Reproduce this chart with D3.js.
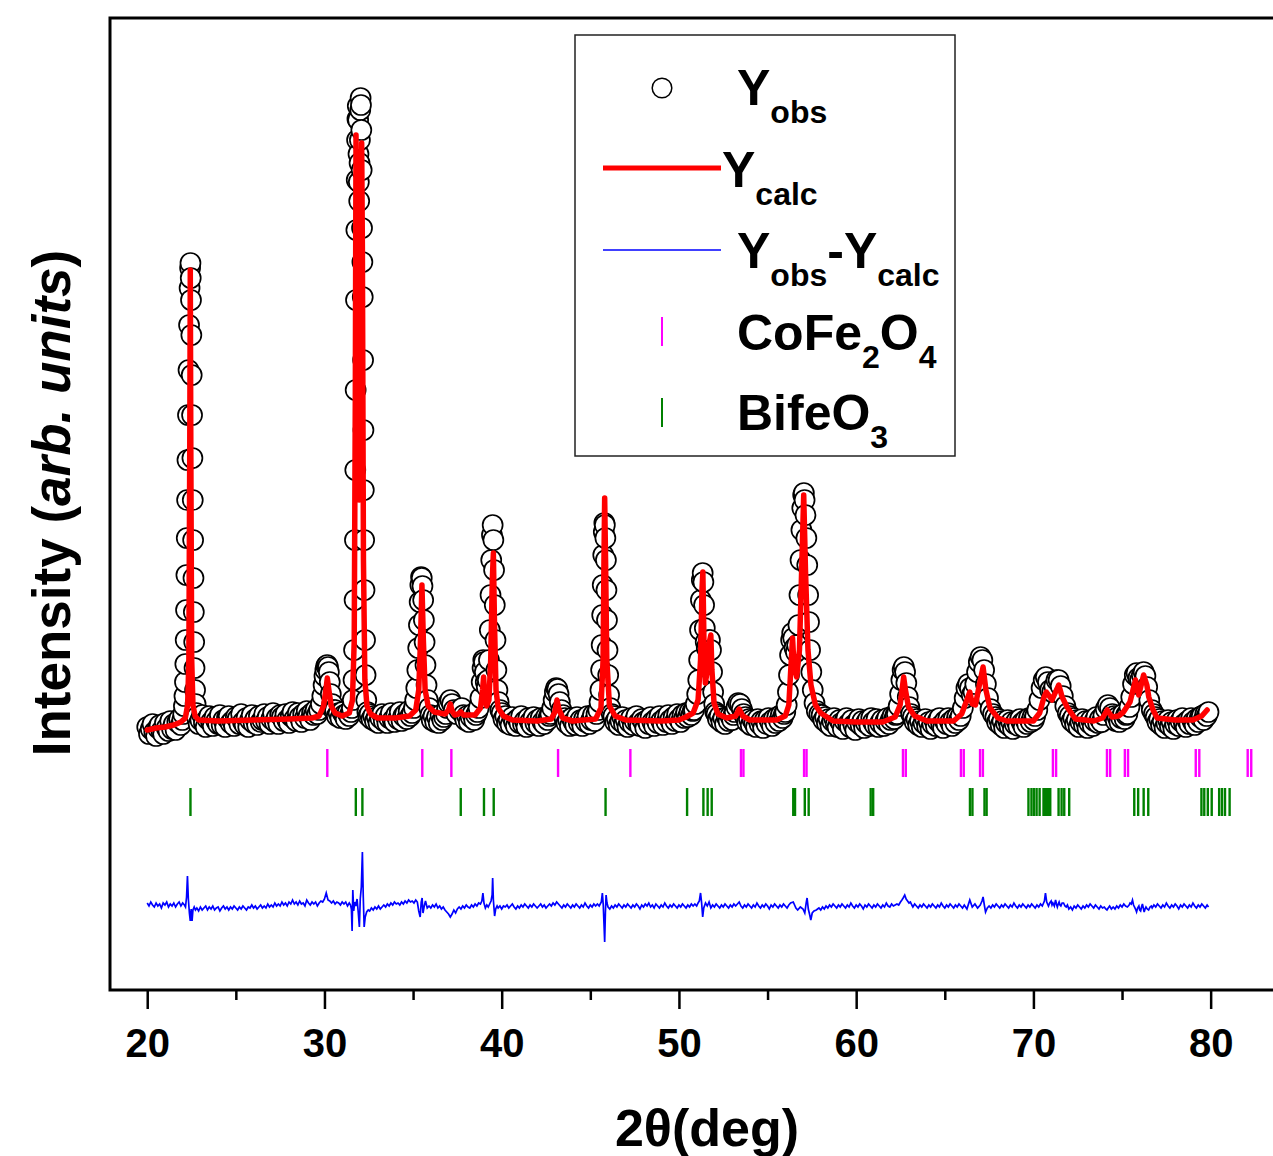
<!DOCTYPE html>
<html>
<head>
<meta charset="utf-8">
<script src="https://cdn.jsdelivr.net/npm/d3@7"></script>
<style>
    body { margin: 0; background: #fff; }
    svg { display: block; font-family: 'Liberation Sans', Arial, Helvetica, sans-serif; font-weight: bold; }
</style>
</head>
<body>
<div id="chart"></div>
<script>
// Axis ticks (2theta, degrees)
const majorTicks = [20, 30, 40, 50, 60, 70, 80];
const minorTicks = [25, 35, 45, 55, 65, 75];

// Observed intensity [2theta, counts]
const yObs = [
    [20.0,73],[20.1,66],[20.2,71],[20.3,76],[20.4,68],[20.5,64],[20.6,72],[20.7,75],[20.8,69],[20.9,66],[21.0,77],
    [21.1,72],[21.2,69],[21.3,79],[21.4,71],[21.5,76],[21.6,70],[21.7,78],[21.8,81],[21.9,75],
    [21.98,80],[22.03,86],[22.07,94],[22.10,104],[22.13,118],[22.15,136],[22.17,160],[22.19,190],[22.21,225],[22.23,262],
    [22.25,300],[22.27,340],[22.30,385],[22.33,430],[22.36,475],[22.39,512],[22.42,532],[22.44,537],[22.455,522],[22.47,500],
    [22.49,465],[22.51,425],[22.53,385],[22.55,342],[22.57,300],[22.59,260],[22.61,222],[22.63,188],[22.65,158],[22.67,132],
    [22.70,110],[22.73,96],[22.77,87],
    [22.8,83],[22.9,76],[23.0,80],[23.1,85],[23.2,77],[23.3,73],[23.4,81],[23.5,84],[23.6,78],[23.7,74],[23.8,83],[23.9,79],
    [24.0,76],[24.1,85],[24.2,75],[24.3,80],[24.4,73],[24.5,82],[24.6,84],[24.7,77],[24.8,79],[24.9,74],[25.0,83],[25.1,81],
    [25.2,76],[25.3,86],[25.4,78],[25.5,75],[25.6,82],[25.7,73],[25.8,80],[25.9,85],[26.0,77],[26.1,81],[26.2,75],[26.3,84],
    [26.4,78],[26.5,80],[26.6,86],[26.7,79],[26.8,83],[26.9,76],[27.0,81],[27.1,87],[27.2,78],[27.3,82],[27.4,76],[27.5,85],
    [27.6,83],[27.7,79],[27.8,86],[27.9,80],[28.0,77],[28.1,84],[28.2,88],[28.3,81],[28.4,79],[28.5,87],[28.6,83],[28.7,78],
    [28.8,86],[28.9,82],[29.0,89],[29.1,84],[29.2,80],[29.3,87],[29.4,85],[29.5,90],[29.6,86],
    [29.70,90],[29.80,96],[29.88,104],[29.95,115],[30.00,124],[30.05,130],[30.10,134],[30.15,135],[30.20,133],[30.25,128],
    [30.30,118],[30.36,106],[30.44,96],[30.52,90],
    [30.6,90],[30.7,84],[30.8,87],[30.9,82],[31.0,88],[31.1,85],[31.2,81],[31.3,87],[31.4,84],
    [31.50,88],[31.55,92],[31.60,100],[31.64,120],[31.67,150],[31.70,200],[31.72,260],[31.74,330],[31.76,410],[31.78,500],
    [31.80,570],[31.82,620],[31.84,660],[31.86,681],[31.88,694],[31.90,680],[31.92,646],[31.94,618],[31.96,599],[31.98,637],
    [32.00,660],[32.02,690],[32.04,702],[32.06,695],[32.08,670],[32.10,630],[32.12,572],[32.14,538],[32.16,503],[32.18,440],
    [32.20,370],[32.22,310],[32.24,260],[32.26,210],[32.29,160],[32.32,125],[32.36,100],[32.42,88],[32.48,84],
    [32.55,86],[32.65,81],[32.75,84],[32.85,79],[32.95,83],[33.05,77],[33.15,82],[33.25,86],[33.35,79],[33.45,84],
    [33.55,77],[33.65,82],[33.75,87],[33.85,80],[33.95,78],[34.05,85],[34.15,81],[34.25,88],[34.35,79],[34.45,84],
    [34.55,86],[34.65,81],[34.75,89],[34.85,84],[34.95,87],
    [35.05,92],[35.12,100],[35.18,112],[35.24,130],[35.29,152],[35.33,175],[35.37,198],[35.41,215],[35.45,223],[35.49,222],
    [35.53,214],[35.57,200],[35.61,180],[35.65,158],[35.70,135],[35.76,115],[35.83,100],[35.91,92],
    [35.98,85],[36.05,80],[36.15,84],[36.25,78],[36.35,83],[36.45,77],[36.55,85],[36.65,80],[36.75,83],[36.85,86],
    [36.92,92],[37.0,97],[37.1,100],[37.2,96],[37.3,90],[37.45,86],[37.6,90],[37.75,92],
    [37.85,85],[37.95,80],[38.05,84],[38.15,78],[38.25,83],[38.35,86],[38.45,80],[38.55,85],[38.63,88],
    [38.70,92],[38.80,102],[38.87,118],[38.92,132],[38.96,140],[39.00,138],[39.05,128],[39.10,118],[39.16,113],[39.22,120],
    [39.28,140],[39.33,170],[39.37,205],[39.41,240],[39.45,265],[39.49,275],[39.53,260],[39.57,230],[39.61,195],[39.65,160],
    [39.70,130],[39.76,110],[39.83,98],[39.92,90],
    [40.0,87],[40.1,81],[40.2,84],[40.3,77],[40.4,80],[40.5,75],[40.6,83],[40.7,78],[40.8,74],[40.9,81],[41.0,77],[41.1,84],
    [41.2,76],[41.3,79],[41.4,73],[41.5,82],[41.6,78],[41.7,75],[41.8,83],[41.9,77],[42.0,80],[42.1,74],[42.2,82],[42.3,78],
    [42.4,76],[42.5,83],[42.6,80],[42.68,84],
    [42.75,86],[42.85,92],[42.93,100],[43.00,108],[43.07,112],[43.14,111],[43.21,106],[43.28,98],[43.37,90],[43.46,85],
    [43.55,82],[43.65,77],[43.75,80],[43.85,74],[43.95,82],[44.05,78],[44.15,75],[44.25,83],[44.35,77],[44.45,80],
    [44.55,74],[44.65,81],[44.75,78],[44.85,84],[44.95,76],[45.05,80],[45.15,85],[45.25,79],[45.35,86],
    [45.45,90],[45.52,98],[45.57,110],[45.61,130],[45.64,155],[45.67,185],[45.70,215],[45.73,245],[45.76,268],[45.79,277],
    [45.82,275],[45.85,262],[45.88,240],[45.91,210],[45.94,180],[45.97,150],[46.01,125],[46.06,105],[46.13,92],[46.21,86],
    [46.3,84],[46.4,78],[46.5,81],[46.6,75],[46.7,79],[46.8,83],[46.9,76],[47.0,80],[47.1,73],[47.2,78],[47.3,82],[47.4,75],
    [47.5,79],[47.6,84],[47.7,77],[47.8,74],[47.9,81],[48.0,78],[48.1,72],[48.2,80],[48.3,76],[48.4,83],[48.5,78],[48.6,74],
    [48.7,81],[48.8,77],[48.9,84],[49.0,79],[49.1,75],[49.2,82],[49.3,78],[49.4,85],[49.5,80],[49.6,76],[49.7,83],[49.8,79],
    [49.9,86],[50.0,81],[50.1,78],[50.2,85],[50.3,82],[50.4,87],[50.5,83],[50.6,88],[50.7,85],[50.78,89],
    [50.85,90],[50.95,96],[51.03,106],[51.09,120],[51.14,140],[51.19,170],[51.24,200],[51.29,220],[51.34,227],[51.38,218],
    [51.42,195],[51.46,172],[51.51,158],[51.57,152],[51.63,155],[51.69,160],[51.75,160],[51.81,150],[51.87,128],[51.93,108],
    [51.99,96],[52.05,88],
    [52.12,86],[52.2,81],[52.3,84],[52.4,78],[52.5,82],[52.6,76],[52.7,83],[52.8,79],[52.9,84],[53.0,80],[53.08,85],
    [53.15,88],[53.25,93],[53.35,97],[53.45,96],[53.55,91],[53.65,86],
    [53.75,83],[53.85,78],[53.95,81],[54.05,75],[54.15,80],[54.25,77],[54.35,73],[54.45,81],[54.55,76],[54.65,79],
    [54.75,72],[54.85,80],[54.95,76],[55.05,82],[55.15,78],[55.25,74],[55.35,81],[55.45,77],[55.55,83],[55.65,79],
    [55.75,85],[55.85,82],[55.93,86],
    [56.00,88],[56.08,95],[56.15,108],[56.21,125],[56.27,145],[56.33,160],[56.39,167],[56.45,162],[56.52,152],[56.60,148],
    [56.67,155],[56.74,175],[56.80,205],[56.86,240],[56.91,270],[56.96,292],[57.01,305],[57.05,307],[57.09,300],[57.14,285],
    [57.19,262],[57.24,235],[57.29,205],[57.34,178],[57.40,150],[57.47,128],[57.55,110],[57.65,97],[57.78,89],[57.92,86],
    [58.05,85],[58.15,80],[58.25,83],[58.35,77],[58.45,81],[58.55,74],[58.65,79],[58.75,82],[58.85,76],[58.95,73],
    [59.05,80],[59.15,77],[59.25,71],[59.35,79],[59.45,82],[59.55,76],[59.65,73],[59.75,80],[59.85,75],[59.95,70],
    [60.05,78],[60.15,81],[60.25,75],[60.35,79],[60.45,72],[60.55,77],[60.65,80],[60.75,74],[60.85,82],[60.95,78],
    [61.05,75],[61.15,81],[61.25,73],[61.35,77],[61.45,80],[61.55,74],[61.65,79],[61.75,82],[61.85,76],[61.95,80],
    [62.05,84],[62.15,81],[62.22,85],
    [62.30,86],[62.40,94],[62.48,106],[62.55,120],[62.62,130],[62.69,133],[62.76,128],[62.83,117],[62.91,103],[63.00,93],[63.10,86],
    [63.2,83],[63.3,78],[63.4,81],[63.5,75],[63.6,79],[63.7,73],[63.8,77],[63.9,81],[64.0,74],[64.1,78],[64.2,71],[64.3,76],
    [64.4,80],[64.5,74],[64.6,79],[64.7,82],[64.8,75],[64.9,72],[65.0,79],[65.1,76],[65.2,82],[65.3,78],[65.4,74],[65.5,81],
    [65.6,77],[65.7,83],[65.8,80],
    [65.90,84],[66.02,92],[66.12,102],[66.22,112],[66.32,116],[66.42,112],[66.52,105],[66.62,108],[66.72,116],[66.82,128],
    [66.92,138],[67.02,143],[67.12,140],[67.22,130],[67.32,116],[67.44,102],[67.58,91],[67.72,86],
    [67.85,83],[67.95,78],[68.05,81],[68.15,75],[68.25,79],[68.35,72],[68.45,77],[68.55,80],[68.65,74],[68.75,78],
    [68.85,71],[68.95,76],[69.05,79],[69.15,74],[69.25,81],[69.35,77],[69.45,73],[69.55,80],[69.65,76],[69.75,82],
    [69.85,78],[69.95,83],[70.03,80],
    [70.10,84],[70.22,90],[70.34,100],[70.46,112],[70.58,120],[70.70,123],[70.82,118],[70.94,110],[71.06,108],[71.18,114],
    [71.30,120],[71.42,120],[71.54,114],[71.66,104],[71.80,94],[71.94,87],
    [72.05,84],[72.15,79],[72.25,82],[72.35,76],[72.45,80],[72.55,73],[72.65,78],[72.75,81],[72.85,75],[72.95,79],
    [73.05,72],[73.15,77],[73.25,80],[73.35,74],[73.45,79],[73.55,83],[73.65,77],[73.75,81],[73.85,78],
    [73.95,85],[74.08,91],[74.20,95],[74.32,92],[74.45,86],
    [74.55,84],[74.65,79],[74.75,83],[74.85,78],[74.95,82],[75.05,86],[75.15,81],[75.23,85],
    [75.30,86],[75.42,93],[75.52,103],[75.62,116],[75.72,125],[75.82,127],[75.92,122],[76.02,120],[76.12,125],[76.22,128],
    [76.32,124],[76.42,113],[76.54,100],[76.68,90],[76.80,86],
    [76.9,83],[77.0,78],[77.1,81],[77.2,75],[77.3,79],[77.4,72],[77.5,77],[77.6,80],[77.7,74],[77.8,78],[77.9,71],[78.0,76],
    [78.1,80],[78.2,74],[78.3,79],[78.4,82],[78.5,76],[78.6,73],[78.7,79],[78.8,76],[78.9,82],[79.0,78],[79.1,75],[79.2,81],
    [79.3,78],[79.4,83],[79.5,84],[79.6,80],[79.7,86],[79.78,84],[79.88,88]
];

// Calculated profile [2theta, counts]
const yCalc = [
    [20.0,70],[20.5,72],[21.0,73],[21.5,75],[21.9,78],[22.15,82],[22.28,95],[22.35,140],[22.40,350],[22.43,530],
    [22.46,350],[22.51,140],[22.58,95],[22.70,84],[22.9,80],[24.0,79],[26.0,80],[28.0,81],[29.3,82],[29.7,84],
    [29.95,94],[30.08,110],[30.16,122],[30.25,110],[30.38,94],[30.6,87],[31.0,84],[31.4,87],[31.58,100],[31.68,160],
    [31.74,400],[31.78,665],[31.83,450],[31.90,330],[31.96,300],[32.02,400],[32.08,620],[32.10,657],[32.14,550],[32.20,240],
    [32.28,120],[32.40,94],[32.6,86],[33.0,82],[34.0,82],[34.8,84],[35.15,90],[35.32,110],[35.42,160],[35.50,215],
    [35.58,160],[35.68,110],[35.85,94],[36.2,88],[36.8,86],[37.0,90],[37.1,96],[37.2,89],[37.35,85],[37.55,86],
    [37.7,88],[37.85,85],[38.5,85],[38.8,92],[38.92,110],[38.98,123],[39.06,100],[39.15,94],[39.28,100],[39.38,140],
    [39.47,220],[39.53,247],[39.59,180],[39.68,110],[39.8,92],[40.1,84],[40.6,80],[42.0,79],[42.8,81],[43.0,88],
    [43.12,100],[43.24,90],[43.45,82],[44.0,79],[45.3,81],[45.6,92],[45.72,140],[45.77,240],[45.81,302],[45.86,240],
    [45.93,140],[46.08,94],[46.4,84],[47.0,80],[49.0,79],[50.0,80],[50.4,83],[50.8,87],[51.08,100],[51.22,140],
    [51.30,210],[51.35,228],[51.41,160],[51.49,117],[51.60,130],[51.74,160],[51.80,165],[51.86,130],[51.98,97],[52.2,86],
    [52.7,82],[53.2,84],[53.4,91],[53.6,84],[54.0,80],[55.5,80],[56.0,84],[56.2,95],[56.34,140],[56.41,162],
    [56.49,135],[56.64,123],[56.8,150],[56.94,240],[57.04,305],[57.14,230],[57.28,150],[57.45,115],[57.7,95],[58.0,87],
    [58.7,79],[60.0,78],[61.5,78],[62.2,83],[62.48,95],[62.6,112],[62.68,123],[62.78,110],[62.95,93],[63.3,84],
    [64.0,79],[65.5,79],[65.95,86],[66.25,100],[66.41,108],[66.55,96],[66.73,95],[66.95,115],[67.16,133],[67.32,110],
    [67.55,92],[68.0,82],[68.5,79],[70.0,79],[70.35,87],[70.6,103],[70.73,108],[71.05,100],[71.3,110],[71.43,115],
    [71.62,103],[71.9,93],[72.37,81],[73.4,79],[73.9,82],[74.16,90],[74.44,83],[74.8,84],[75.08,88],[75.45,98],
    [75.76,120],[75.94,105],[76.22,125],[76.4,115],[76.51,103],[76.75,90],[76.98,82],[78.0,80],[79.0,80],[79.5,84],[79.8,90]
];

// Difference Yobs - Ycalc [2theta, counts]
const yDiff = [
    [20.0,2],[20.1,-1],[20.2,3],[20.3,0],[20.4,-2],[20.5,2],[20.6,-1],[20.7,1],[20.8,-3],[20.9,2],[21.0,0],[21.1,3],
    [21.2,-2],[21.3,1],[21.4,-1],[21.5,2],[21.6,-2],[21.7,1],[21.8,3],[21.9,-1],[22.0,2],[22.1,0],[22.16,-2],
    [22.22,8],[22.27,29],[22.32,6],[22.38,-8],[22.43,-16],[22.48,-4],[22.53,-16],[22.58,-5],[22.65,-2],[22.72,-5],
    [22.8,-3],[22.9,-6],[23.0,-2],[23.1,-5],[23.2,-3],[23.3,-1],[23.4,-5],[23.5,-2],[23.6,-4],[23.7,-1],[23.8,-5],
    [23.9,-3],[24.0,-2],[24.1,-6],[24.2,-3],[24.3,-1],[24.4,-4],[24.5,-2],[24.6,-5],[24.7,-2],[24.8,-4],[24.9,-1],
    [25.0,-3],[25.1,-5],[25.2,-2],[25.3,-4],[25.4,-1],[25.5,-3],[25.6,-5],[25.7,-2],[25.8,-3],[25.9,0],[26.0,-3],
    [26.1,-1],[26.2,-4],[26.3,-2],[26.4,0],[26.5,-3],[26.6,-1],[26.7,-3],[26.8,1],[26.9,-2],[27.0,0],[27.1,-2],
    [27.2,2],[27.3,-1],[27.4,1],[27.5,-1],[27.6,3],[27.7,0],[27.8,2],[27.9,-1],[28.0,3],[28.1,1],[28.2,5],[28.3,1],
    [28.4,3],[28.5,0],[28.6,4],[28.7,1],[28.8,2],[28.9,-1],[29.0,5],[29.1,2],[29.2,0],[29.3,3],[29.4,1],[29.5,3],
    [29.6,-1],[29.7,2],[29.8,4],[29.9,3],[30.0,6],[30.1,12],[30.2,5],[30.3,4],[30.4,2],[30.5,4],[30.6,1],[30.7,3],
    [30.8,2],[30.9,0],[31.0,3],[31.1,1],[31.2,3],[31.3,-1],[31.4,2],[31.47,0],
    [31.52,-4],[31.56,-26],[31.60,15],[31.65,-6],[31.71,3],[31.77,-1],[31.84,6],[31.91,-8],[31.97,-22],[32.02,6],
    [32.08,18],[32.14,53],[32.19,8],[32.24,-22],[32.30,-12],[32.38,-7],[32.47,-5],
    [32.55,-6],[32.65,-3],[32.75,-5],[32.85,-2],[32.95,-4],[33.05,-1],[33.15,-4],[33.25,-2],[33.35,0],[33.45,-2],
    [33.55,1],[33.65,-1],[33.75,2],[33.85,0],[33.95,3],[34.05,1],[34.15,2],[34.25,0],[34.35,3],[34.45,1],[34.55,4],
    [34.65,2],[34.75,5],[34.85,3],[34.95,4],[35.05,2],[35.15,5],[35.24,3],
    [35.32,-6],[35.40,-12],[35.46,3],[35.51,7],[35.56,-8],[35.62,-2],[35.70,4],[35.80,-3],
    [35.9,-1],[36.0,-3],[36.1,0],[36.2,-2],[36.3,1],[36.4,-3],[36.5,-1],[36.6,-4],[36.7,-2],[36.8,-5],[36.9,-7],
    [37.0,-9],[37.1,-12],[37.2,-9],[37.3,-5],[37.4,-8],[37.5,-4],[37.6,-2],[37.7,-4],[37.8,-1],[37.9,-3],[38.0,0],
    [38.1,-2],[38.2,-3],[38.3,0],[38.4,-2],[38.5,1],[38.6,-1],[38.7,2],[38.8,1],
    [38.88,4],[38.94,12],[39.0,2],[39.08,-3],[39.16,0],[39.24,-2],[39.32,1],[39.4,4],[39.46,10],[39.49,27],[39.53,5],
    [39.60,-11],[39.66,-4],[39.74,-1],
    [39.8,-3],[39.9,-1],[40.0,-4],[40.1,-1],[40.2,-2],[40.3,0],[40.4,-3],[40.5,-1],[40.6,1],[40.7,-2],[40.8,-4],
    [40.9,-1],[41.0,-3],[41.1,0],[41.2,-2],[41.3,1],[41.4,-1],[41.5,-3],[41.6,0],[41.7,-2],[41.8,1],[41.9,-1],
    [42.0,-3],[42.1,-1],[42.2,1],[42.3,-2],[42.4,0],[42.5,-3],[42.6,-1],[42.7,1],[42.8,-1],[42.9,2],[43.0,0],
    [43.1,3],[43.2,1],[43.3,-1],[43.4,-3],[43.5,0],[43.6,-2],[43.7,1],[43.8,-1],[43.9,-3],[44.0,0],[44.1,-2],
    [44.2,1],[44.3,-1],[44.4,-3],[44.5,0],[44.6,-2],[44.7,2],[44.8,-1],[44.9,-3],[45.0,0],[45.1,-2],[45.2,1],
    [45.3,-1],[45.4,1],[45.5,-1],
    [45.62,3],[45.68,12],[45.73,0],[45.77,-18],[45.81,-37],[45.85,-8],[45.89,10],[45.94,2],[46.0,-2],
    [46.1,-4],[46.2,-1],[46.3,-3],[46.4,0],[46.5,-2],[46.6,1],[46.7,-1],[46.8,-3],[46.9,0],[47.0,-2],[47.1,1],
    [47.2,-1],[47.3,-3],[47.4,0],[47.5,-2],[47.6,1],[47.7,-1],[47.8,-4],[47.9,0],[48.0,-2],[48.1,1],[48.2,-1],
    [48.3,2],[48.4,-2],[48.5,0],[48.6,-3],[48.7,1],[48.8,-1],[48.9,-3],[49.0,0],[49.1,-2],[49.2,2],[49.3,-1],
    [49.4,-3],[49.5,0],[49.6,-2],[49.7,1],[49.8,-1],[49.9,-3],[50.0,0],[50.1,-2],[50.2,1],[50.3,-1],[50.4,-3],
    [50.5,0],[50.6,-2],[50.7,1],[50.8,-1],[50.9,1],[51.0,-1],[51.08,2],
    [51.15,4],[51.22,12],[51.28,2],[51.34,-12],[51.40,-3],[51.5,2],[51.6,-1],[51.7,3],[51.8,-3],[51.9,0],
    [52.0,-2],[52.1,1],[52.2,-1],[52.3,-3],[52.4,0],[52.5,-2],[52.6,1],[52.7,-1],[52.8,-3],[52.9,0],[53.0,-2],
    [53.1,1],[53.2,-1],[53.3,1],[53.4,3],[53.5,-1],[53.6,-3],[53.7,0],[53.8,-2],[53.9,1],[54.0,-1],[54.1,-3],
    [54.2,0],[54.3,-2],[54.4,2],[54.5,-1],[54.6,-3],[54.7,0],[54.8,-2],[54.9,1],[55.0,-1],[55.1,-4],[55.2,0],
    [55.3,-2],[55.4,1],[55.5,-1],[55.6,-3],[55.7,0],[55.8,-2],[55.9,1],[56.0,-1],[56.1,-3],[56.2,0],[56.3,2],
    [56.45,3],[56.6,-3],[56.7,-5],[56.85,-2],[57.0,-4],[57.1,-8],[57.18,2],[57.23,7],[57.3,-4],[57.38,-10],
    [57.44,-15],[57.52,-8],[57.62,-6],[57.75,-5],[57.9,-3],
    [58.0,-5],[58.1,-2],[58.2,-4],[58.3,-1],[58.4,-3],[58.5,0],[58.6,-2],[58.7,1],[58.8,-1],[58.9,-3],[59.0,0],
    [59.1,-2],[59.2,1],[59.3,-1],[59.4,-3],[59.5,0],[59.6,-2],[59.7,2],[59.8,-1],[59.9,-3],[60.0,0],[60.1,-2],
    [60.2,1],[60.3,-1],[60.4,-4],[60.5,0],[60.6,-2],[60.7,1],[60.8,-1],[60.9,-3],[61.0,0],[61.1,-2],[61.2,1],
    [61.3,-1],[61.4,-3],[61.5,0],[61.6,-2],[61.7,2],[61.8,-1],[61.9,-2],[62.0,1],[62.1,-1],[62.2,0],[62.3,1],[62.4,0],
    [62.5,3],[62.58,5],[62.65,7],[62.74,10],[62.82,6],[62.9,4],[62.98,2],[63.06,3],[63.14,0],
    [63.2,-2],[63.3,1],[63.4,-1],[63.5,-3],[63.6,0],[63.7,-2],[63.8,1],[63.9,-1],[64.0,-3],[64.1,0],[64.2,-2],
    [64.3,1],[64.4,-1],[64.5,-3],[64.6,0],[64.7,-2],[64.8,2],[64.9,-1],[65.0,-3],[65.1,0],[65.2,-2],[65.3,1],
    [65.4,-1],[65.5,-3],[65.6,0],[65.7,-2],[65.8,1],[65.9,-1],[66.0,-3],[66.1,0],
    [66.25,-4],[66.41,5],[66.55,-2],[66.7,1],[66.85,-3],[67.0,0],[67.1,4],[67.16,8],[67.24,-1],[67.3,-7],[67.4,-3],[67.5,-1],
    [67.6,-3],[67.7,0],[67.8,-2],[67.9,1],[68.0,-1],[68.1,-3],[68.2,0],[68.3,-2],[68.4,1],[68.5,-1],[68.6,-3],
    [68.7,0],[68.8,-2],[68.9,2],[69.0,-1],[69.1,-3],[69.2,0],[69.3,-2],[69.4,1],[69.5,-1],[69.6,-3],[69.7,0],
    [69.8,-2],[69.9,1],[70.0,-1],[70.1,-3],[70.2,0],[70.3,-2],[70.4,1],[70.5,-1],
    [70.62,4],[70.68,12],[70.75,3],[70.85,-1],[70.92,2],[71.0,4],[71.05,0],[71.1,2],[71.18,-1],[71.25,5],[71.3,1],
    [71.35,-2],[71.4,1],[71.45,3],[71.5,0],[71.55,-1],[71.62,2],[71.7,2],[71.78,-1],[71.85,-2],[71.92,0],
    [72.0,-4],[72.1,-2],[72.2,-5],[72.3,-1],[72.4,-3],[72.5,0],[72.6,-2],[72.7,-4],[72.8,-1],[72.9,-3],[73.0,0],
    [73.1,-2],[73.2,1],[73.3,-1],[73.4,-3],[73.5,0],[73.6,-2],[73.7,-4],[73.8,-1],[73.9,-3],[74.0,-2],[74.08,-4],
    [74.15,-5],[74.22,-3],[74.3,-1],[74.4,-4],[74.5,-2],[74.6,-4],[74.7,-1],[74.8,-3],[74.9,0],[75.0,-2],[75.1,1],
    [75.2,-1],[75.3,-2],[75.4,0],[75.45,2],[75.52,1],[75.59,5],[75.65,0],[75.7,-2],[75.76,-4],[75.82,-7],[75.88,-3],
    [75.95,-1],[76.0,-5],[76.05,-6],[76.1,-2],[76.15,1],[76.2,-3],[76.25,-7],[76.3,-4],[76.35,-2],[76.42,-4],
    [76.5,-5],[76.58,-2],[76.65,-1],
    [76.7,-3],[76.8,0],[76.9,-2],[77.0,1],[77.1,-1],[77.2,-3],[77.3,0],[77.4,-2],[77.5,2],[77.6,-1],[77.7,-3],
    [77.8,0],[77.9,-2],[78.0,1],[78.1,-1],[78.2,-4],[78.3,0],[78.4,-2],[78.5,1],[78.6,-1],[78.7,-3],[78.8,0],
    [78.9,-2],[79.0,2],[79.1,-1],[79.2,-3],[79.3,0],[79.4,-2],[79.5,1],[79.6,-1],[79.7,-3],[79.8,0],[79.88,-2]
];

// Bragg reflection positions (2theta)
const cofeTicks = [30.16, 35.52, 37.16, 43.18, 47.26, 53.50, 53.64, 57.06, 57.20, 62.64, 62.80, 65.91, 66.07,
    66.99, 67.15, 71.10, 71.28, 74.15, 74.33, 75.16, 75.34, 79.16, 79.36, 82.09, 82.29];
const bifeoTicks = [22.44, 31.77, 32.14, 37.69, 39.00, 39.55, 45.86, 50.46, 51.38, 51.62, 51.85, 56.45, 56.55,
    57.10, 57.32, 60.82, 60.96, 66.42, 66.56, 67.24, 67.36, 69.72, 69.89, 70.03, 70.18, 70.35, 70.57, 70.65,
    70.72, 70.80, 70.88, 70.95, 71.42, 71.59, 71.74, 72.02, 75.69, 75.91, 76.22, 76.48, 79.48, 79.64, 79.84,
    80.06, 80.48, 80.64, 80.81, 81.07];

const chart = {
    totalWidth: 1273,
    totalHeight: 1156,
    left: 110,
    right: 1278,
    top: 18,
    bottom: 990
};

// offsets of the lower rows, in intensity units
const diffOffset = -105;
const tickRows = { cofe: [51, 23], bifeo: [12, -16] };

const svg = d3.select('#chart')
    .append('svg')
    .attr('width', chart.totalWidth)
    .attr('height', chart.totalHeight);

const xScale = d3.scaleLinear()
    .domain([17.9, 83.8])
    .range([chart.left, chart.right]);

const yScale = d3.scaleLinear()
    .domain([-190, 782])
    .range([chart.bottom, chart.top]);

// Observed points
svg.append('g')
    .classed('obs', true)
    .selectAll('circle')
    .data(yObs)
    .enter()
    .append('circle')
    .attr('cx', d => xScale(d[0]))
    .attr('cy', d => yScale(d[1]))
    .attr('r', 10)
    .attr('fill', '#fff')
    .attr('stroke', '#000')
    .attr('stroke-width', 1.7);

// Calculated line
const line = d3.line()
    .x(d => xScale(d[0]))
    .y(d => yScale(d[1]));

svg.append('path')
    .datum(yCalc)
    .attr('d', line)
    .attr('fill', 'none')
    .attr('stroke', '#ff0000')
    .attr('stroke-width', 5.5)
    .attr('stroke-linejoin', 'round')
    .attr('stroke-linecap', 'round');

// Difference line
const diffLine = d3.line()
    .x(d => xScale(d[0]))
    .y(d => yScale(diffOffset + d[1]));

svg.append('path')
    .datum(yDiff)
    .attr('d', diffLine)
    .attr('fill', 'none')
    .attr('stroke', '#0000ff')
    .attr('stroke-width', 1.7);

// Bragg ticks
function braggRow(data, row, color) {
    svg.append('g')
        .selectAll('line')
        .data(data)
        .enter()
        .append('line')
        .attr('x1', d => xScale(d))
        .attr('x2', d => xScale(d))
        .attr('y1', yScale(row[0]))
        .attr('y2', yScale(row[1]))
        .attr('stroke', color)
        .attr('stroke-width', 2.4);
}
braggRow(cofeTicks, tickRows.cofe, '#ff00ff');
braggRow(bifeoTicks, tickRows.bifeo, '#008000');

// Frame
svg.append('path')
    .classed('frame', true)
    .attr('d', `M${chart.right},${chart.top}H${chart.left}V${chart.bottom}H${chart.right}`)
    .attr('fill', 'none')
    .attr('stroke', '#000')
    .attr('stroke-width', 3);

// X axis
const xAxis = d3.axisBottom(xScale)
    .tickValues(majorTicks)
    .tickSize(19)
    .tickSizeOuter(0);

const gx = svg.append('g')
    .classed('x-axis', true)
    .attr('transform', `translate(0, ${chart.bottom})`)
    .call(xAxis);
gx.select('.domain').remove();
gx.selectAll('.tick line').attr('stroke', '#000').attr('stroke-width', 2.5);
gx.selectAll('.tick text')
    .attr('y', 67)
    .attr('dy', null)
    .attr('fill', '#000')
    .style('font-size', '40px')
    .style('font-weight', 'bold')
    .style('font-family', "'Liberation Sans', Arial, sans-serif");

const gxMinor = svg.append('g')
    .classed('x-axis-minor', true)
    .attr('transform', `translate(0, ${chart.bottom})`)
    .call(d3.axisBottom(xScale).tickValues(minorTicks).tickSize(10).tickSizeOuter(0).tickFormat(''));
gxMinor.select('.domain').remove();
gxMinor.selectAll('.tick line').attr('stroke', '#000').attr('stroke-width', 2.5);

// Axis titles
svg.append('text')
    .attr('x', 707)
    .attr('y', 1146)
    .attr('text-anchor', 'middle')
    .style('font-size', '52px')
    .text('2θ(deg)');

const yLabel = svg.append('text')
    .attr('transform', 'translate(70, 503) rotate(-90)')
    .attr('text-anchor', 'middle')
    .style('font-size', '53px');
yLabel.append('tspan').text('Intensity (');
yLabel.append('tspan').style('font-style', 'italic').text('arb. units');
yLabel.append('tspan').text(')');

// Legend
const legend = svg.append('g').classed('legend', true);
legend.append('rect')
    .attr('x', 575).attr('y', 35)
    .attr('width', 380).attr('height', 421)
    .attr('fill', '#fff')
    .attr('stroke', '#222')
    .attr('stroke-width', 1.5);

legend.append('circle')
    .attr('cx', 662).attr('cy', 88).attr('r', 9.8)
    .attr('fill', '#fff').attr('stroke', '#000').attr('stroke-width', 1.5);
legend.append('line')
    .attr('x1', 603).attr('x2', 721).attr('y1', 168).attr('y2', 168)
    .attr('stroke', '#ff0000').attr('stroke-width', 5);
legend.append('line')
    .attr('x1', 603).attr('x2', 721).attr('y1', 250).attr('y2', 250)
    .attr('stroke', '#0000ff').attr('stroke-width', 1.5);
legend.append('line')
    .attr('x1', 662).attr('x2', 662).attr('y1', 317).attr('y2', 346)
    .attr('stroke', '#ff00ff').attr('stroke-width', 2);
legend.append('line')
    .attr('x1', 662).attr('x2', 662).attr('y1', 398).attr('y2', 427)
    .attr('stroke', '#008000').attr('stroke-width', 2);

function legendText(x, y, parts) {
    const t = legend.append('text').attr('x', x).attr('y', y);
    let sub = false;
    parts.forEach(p => {
        const isSub = p[1] === 'sub';
        const s = t.append('tspan')
            .style('font-size', isSub ? '32px' : '50px')
            .text(p[0]);
        if (isSub !== sub) s.attr('dy', isSub ? 18 : -18);
        sub = isSub;
    });
}
legendText(737, 105, [['Y', 'main'], ['obs', 'sub']]);
legendText(722, 187, [['Y', 'main'], ['calc', 'sub']]);
legendText(737, 268, [['Y', 'main'], ['obs', 'sub'], ['-', 'main'], ['Y', 'main'], ['calc', 'sub']]);
legendText(737, 350, [['CoFe', 'main'], ['2', 'sub'], ['O', 'main'], ['4', 'sub']]);
legendText(737, 430, [['BifeO', 'main'], ['3', 'sub']]);
</script>
</body>
</html>
